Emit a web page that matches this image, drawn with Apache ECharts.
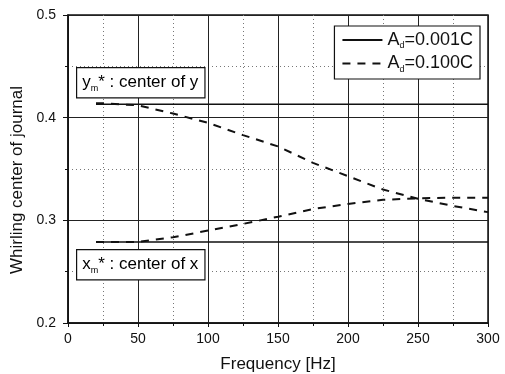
<!DOCTYPE html>
<html>
<head>
<meta charset="utf-8">
<script src="https://cdn.jsdelivr.net/npm/echarts@6/dist/echarts.min.js"></script>
<style>
  html, body { margin: 0; padding: 0; background: #fff; }
  #chart { width: 505px; height: 374px; }
</style>
</head>
<body>
<div id="chart"></div>
<script>
  // frequency points [Hz]
  const freq = [20, 25, 50, 75, 100, 125, 150, 175, 200, 225, 250, 275, 300];
  // A_d = 0.001C
  const ySmall = [0.413, 0.413, 0.413, 0.413, 0.413, 0.413, 0.413, 0.413, 0.413, 0.413, 0.413, 0.413, 0.413];
  const xSmall = [0.279, 0.279, 0.279, 0.279, 0.279, 0.279, 0.279, 0.279, 0.279, 0.279, 0.279, 0.279, 0.279];
  // A_d = 0.100C
  const yLarge = [0.414, 0.414, 0.412, 0.404, 0.395, 0.383, 0.372, 0.356, 0.343, 0.330, 0.321, 0.314, 0.308];
  const xLarge = [0.279, 0.279, 0.279, 0.2835, 0.290, 0.2965, 0.3035, 0.311, 0.316, 0.320, 0.3215, 0.322, 0.322];
  const xTicks = [0, 50, 100, 150, 200, 250, 300];
  const yTicks = [0.2, 0.3, 0.4, 0.5];

  const pairs = (xs, ys) => xs.map((x, i) => [x, ys[i]]);
  const FONT = '"Liberation Sans", Arial, sans-serif';

  const chart = echarts.init(document.getElementById('chart'));

  const subRich = {
    n: { fontSize: 17, fontFamily: FONT, color: '#111', lineHeight: 21 },
    s: { fontSize: 9, fontFamily: FONT, color: '#111', lineHeight: 21, verticalAlign: 'bottom', padding: [10, 0, 0, 0] }
  };

  chart.setOption({
    animation: false,
    grid: {
      left: 68, right: 17, top: 15, bottom: 51,
      outerBoundsMode: 'none',
      show: true, borderColor: '#111', borderWidth: 1.5, backgroundColor: 'transparent'
    },
    legend: {
      right: 25, top: 26,
      orient: 'vertical',
      itemWidth: 40, itemHeight: 10, itemGap: 4,
      padding: [5, 7, 5, 7],
      borderColor: '#111', borderWidth: 1.2, backgroundColor: '#fff',
      itemStyle: { color: 'transparent', borderWidth: 0, opacity: 0 },
      data: ['A_d=0.001C', 'A_d=0.100C'],
      formatter: function (name) {
        return '{a|A}{s|d}{a|' + name.slice(3) + '}';
      },
      textStyle: {
        rich: {
          a: { fontSize: 18, fontFamily: FONT, color: '#111', lineHeight: 21 },
          s: { fontSize: 9, fontFamily: FONT, color: '#111', lineHeight: 21, verticalAlign: 'bottom', padding: [10, 0, 0, 0] }
        }
      }
    },
    xAxis: {
      type: 'value', min: 0, max: 300, interval: 50,
      name: 'Frequency [Hz]', nameLocation: 'middle', nameGap: 33,
      nameTextStyle: { fontSize: 17, fontFamily: FONT, color: '#111' },
      axisLine: { show: true, lineStyle: { color: '#111', width: 1.5 } },
      axisTick: { show: true, inside: false, length: 4, lineStyle: { color: '#111' } },
      minorTick: { show: true, splitNumber: 2, length: 3, lineStyle: { color: '#111' } },
      axisLabel: {
        fontSize: 14, fontFamily: FONT, color: '#111', margin: 9,
        formatter: v => xTicks.includes(v) ? String(v) : ''
      },
      splitLine: { show: true, lineStyle: { color: '#222', width: 1 } },
      minorSplitLine: { show: true, lineStyle: { color: '#777', type: [1, 3], width: 1 } }
    },
    yAxis: {
      type: 'value', min: 0.2, max: 0.5, interval: 0.1,
      name: 'Whirling center of journal', nameLocation: 'middle', nameGap: 42,
      nameTextStyle: { fontSize: 17, fontFamily: FONT, color: '#111', padding: [0, 22, 0, 0] },
      axisLine: { show: true, lineStyle: { color: '#111', width: 1.5 } },
      axisTick: { show: true, inside: false, length: 5, lineStyle: { color: '#111' } },
      minorTick: { show: true, splitNumber: 2, length: 3, lineStyle: { color: '#111' } },
      axisLabel: {
        fontSize: 14, fontFamily: FONT, color: '#111', margin: 12,
        formatter: v => {
          const t = yTicks.find(k => Math.abs(k - v) < 1e-6);
          return t !== undefined ? t.toFixed(1) : '';
        }
      },
      splitLine: { show: true, lineStyle: { color: '#222', width: 1 } },
      minorSplitLine: { show: true, lineStyle: { color: '#777', type: [1, 3], width: 1 } }
    },
    series: [
      {
        name: 'A_d=0.001C', type: 'line', symbol: 'none',
        lineStyle: { color: '#111', width: 1.5, type: 'solid' },
        itemStyle: { color: '#111' },
        data: pairs(freq, ySmall)
      },
      {
        name: 'A_d=0.001C', type: 'line', symbol: 'none',
        lineStyle: { color: '#111', width: 1.5, type: 'solid' },
        itemStyle: { color: '#111' },
        data: pairs(freq, xSmall)
      },
      {
        name: 'A_d=0.100C', type: 'line', symbol: 'none',
        lineStyle: { color: '#111', width: 2, type: [8, 7] },
        itemStyle: { color: '#111' },
        data: pairs(freq, yLarge)
      },
      {
        name: 'A_d=0.100C', type: 'line', symbol: 'none',
        lineStyle: { color: '#111', width: 2, type: [8, 7] },
        itemStyle: { color: '#111' },
        data: pairs(freq, xLarge)
      }
    ],
    graphic: [
      {
        type: 'text', left: 76, top: 67, z: 100,
        style: {
          text: '{n|y}{s|m}{n|* : center of y}',
          rich: subRich,
          backgroundColor: '#fff', borderColor: '#111', borderWidth: 1.2,
          padding: [4, 6, 4, 5]
        }
      },
      {
        type: 'text', left: 76, top: 249, z: 100,
        style: {
          text: '{n|x}{s|m}{n|* : center of x}',
          rich: subRich,
          backgroundColor: '#fff', borderColor: '#111', borderWidth: 1.2,
          padding: [4, 6, 4, 5]
        }
      }
    ]
  });
</script>
</body>
</html>
